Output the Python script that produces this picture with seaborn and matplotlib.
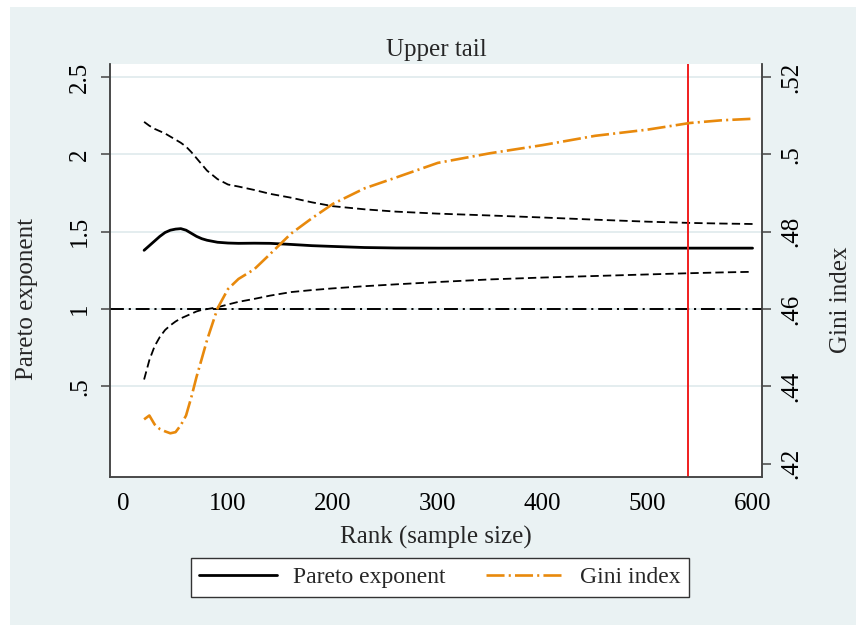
import matplotlib
matplotlib.use("Agg")
import matplotlib.pyplot as plt
from matplotlib.patches import Rectangle
from matplotlib.lines import Line2D
import seaborn as sns

# datos
rank = [20, 25, 30, 35, 40, 45, 50, 55, 60, 65, 70, 75, 80, 90, 100, 110, 125, 140,
        160, 180, 200, 230, 260, 300, 350, 400, 450, 500, 540, 570, 600]
pareto = [1.38, 1.41, 1.44, 1.47, 1.495, 1.51, 1.517, 1.52, 1.51, 1.49, 1.47, 1.455,
          1.445, 1.432, 1.427, 1.425, 1.426, 1.425, 1.418, 1.41, 1.405, 1.398, 1.395,
          1.394, 1.394, 1.394, 1.394, 1.394, 1.394, 1.394, 1.394]
upper_ci = [2.21, 2.185, 2.165, 2.15, 2.135, 2.115, 2.095, 2.075, 2.05, 2.015, 1.975,
            1.935, 1.895, 1.84, 1.805, 1.792, 1.77, 1.745, 1.72, 1.69, 1.665, 1.645,
            1.63, 1.617, 1.605, 1.592, 1.578, 1.565, 1.557, 1.553, 1.55]
lower_ci = [0.545, 0.67, 0.76, 0.82, 0.865, 0.895, 0.92, 0.94, 0.955, 0.97, 0.985,
            0.995, 1.0, 1.012, 1.03, 1.047, 1.066, 1.087, 1.11, 1.123, 1.134, 1.148,
            1.16, 1.175, 1.192, 1.204, 1.214, 1.224, 1.232, 1.237, 1.241]
gini = [0.4315, 0.4325, 0.4302, 0.429, 0.4284, 0.4279, 0.4282, 0.43, 0.4325, 0.4372,
        0.4425, 0.4472, 0.452, 0.4602, 0.4652, 0.4678, 0.4703, 0.4742, 0.4795, 0.4835,
        0.4872, 0.4912, 0.494, 0.4978, 0.5003, 0.5024, 0.5048, 0.5064, 0.5081, 0.5088,
        0.5092]
cutoff = 538

x_ticks = [0, 100, 200, 300, 400, 500, 600]
left_ticks = [0.5, 1, 1.5, 2, 2.5]
left_labels = [".5", "1", "1.5", "2", "2.5"]
right_ticks = [0.42, 0.44, 0.46, 0.48, 0.50, 0.52]
right_labels = [".42", ".44", ".46", ".48", ".5", ".52"]

bg = "#EAF2F3"
grid_c = "#DFEAEC"
axis_c = "#444444"
orange = "#E8890C"
fs = 18

sns.set_theme(style="white")
plt.rcParams["font.family"] = ["Liberation Serif", "DejaVu Serif"]
plt.rcParams["font.size"] = fs
plt.rcParams["lines.scale_dashes"] = False

fig = plt.figure(figsize=(8.56, 6.25), dpi=100, facecolor="white")
fig.patches.append(Rectangle((10 / 856, 0), 1, 1 - 7 / 625, transform=fig.transFigure,
                             facecolor=bg, edgecolor="none", zorder=-10))
ax = fig.add_axes([110 / 856, 1 - 477 / 625, (762 - 110) / 856, (477 - 64) / 625])
ax.set_facecolor("white")

ymin, ymax = -0.085, 2.584
ax.set_xlim(-12.5, 609)
ax.set_ylim(ymin, ymax)

for v in left_ticks:
    ax.axhline(v, color=grid_c, lw=1.2, zorder=0)

sns.lineplot(x=rank, y=upper_ci, ax=ax, color="black", lw=1.3, linestyle=(0, (6, 3)))
sns.lineplot(x=rank, y=lower_ci, ax=ax, color="black", lw=1.3, linestyle=(0, (6, 3)))
sns.lineplot(x=rank, y=pareto, ax=ax, color="black", lw=2)
ax.axhline(1, color="black", lw=1.4, linestyle=(0, (10, 3.5, 1.5, 3.5)), zorder=3)
ax.axvline(cutoff, color="#F01E1E", lw=1.4, zorder=4)

ax2 = ax.twinx()
sns.lineplot(x=rank, y=gini, ax=ax2, color=orange, lw=1.9, linestyle=(0, (13, 3, 1.5, 3)))
ax2.set_ylim(0.46 + (ymin - 1) * 0.04, 0.46 + (ymax - 1) * 0.04)

ax.set_xticks(x_ticks)
ax.set_yticks(left_ticks)
ax.set_yticklabels(left_labels, rotation=90, va="center")
ax2.set_yticks(right_ticks)
ax2.set_yticklabels(right_labels, rotation=90, va="center")

for a in (ax, ax2):
    for s in a.spines.values():
        s.set_color(axis_c)
        s.set_linewidth(1.1)
    a.spines["top"].set_visible(False)
    a.tick_params(direction="out", length=6.5, width=1.1, color=axis_c, labelsize=fs,
                  labelcolor="black")
ax.tick_params(axis="y", pad=7)
ax2.tick_params(axis="y", pad=7)
ax.tick_params(axis="x", pad=5)

ax.set_xlabel("Rank (sample size)", fontsize=fs, labelpad=8)
ax.set_ylabel("Pareto exponent", fontsize=fs)
ax2.set_ylabel("Gini index", fontsize=fs)
ax.yaxis.set_label_coords(-0.11, 0.43)
ax2.yaxis.set_label_coords(1.105, 0.43)
ax.set_title("Upper tail", fontsize=fs, pad=6)

handles = [Line2D([], [], color="black", lw=2),
           Line2D([], [], color=orange, lw=1.9, linestyle=(0, (13, 3, 1.5, 3)))]
leg = fig.legend(handles, ["Pareto exponent", "Gini index"], loc="center",
                 bbox_to_anchor=(440 / 856, 1 - 577.5 / 625), ncol=2, fontsize=17,
                 frameon=True, fancybox=False, handlelength=3.3, columnspacing=1.7,
                 handletextpad=0.7, borderpad=0.35)
leg.get_frame().set_edgecolor("#333333")
leg.get_frame().set_linewidth(1)
leg.get_frame().set_facecolor("white")
leg.get_frame().set_alpha(1)

fig.savefig("out.png", dpi=100, facecolor=fig.get_facecolor())
